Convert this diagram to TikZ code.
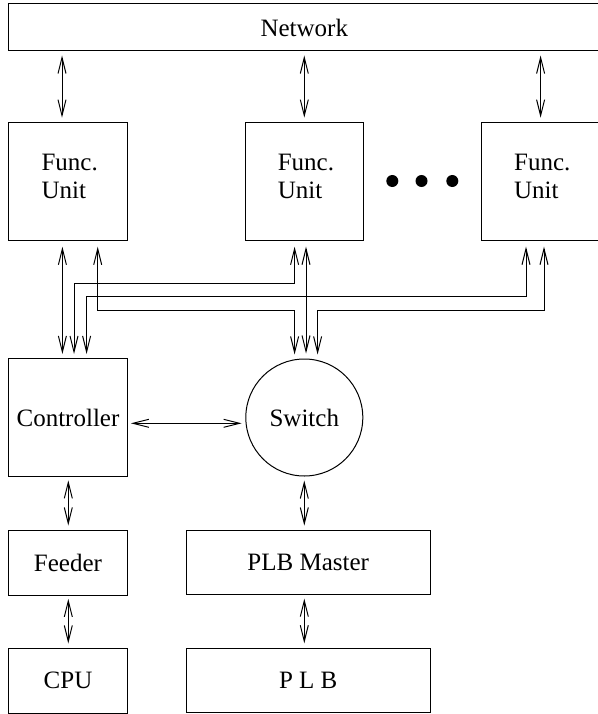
\documentclass[tikz,border=0pt]{standalone}
\usepackage{fontspec}
\setmainfont{Liberation Serif}
\usetikzlibrary{arrows.meta,calc}
\begin{document}
\begin{tikzpicture}[x=1pt,y=-1pt,line width=1pt,
  txt/.style={font=\fontsize{25}{28}\selectfont},
  box/.style={draw,rectangle,inner sep=0pt,minimum width=118.6pt,minimum height=118pt},
  lowbox/.style={draw,rectangle,inner sep=0pt,minimum width=118.6pt,minimum height=65pt,txt},
  widebox/.style={draw,rectangle,inner sep=0pt,minimum width=244.3pt,minimum height=64.7pt,txt},
  arr/.style={arrows={Straight Barb[length=16pt,width=8pt]-Straight Barb[length=16pt,width=8pt]}},
  gaps/.style 2 args={shorten <=#1,shorten >=#2}]
\useasboundingbox (0,0) rectangle (597,714);
% boxes
\node[draw,rectangle,inner sep=0pt,minimum width=591.2pt,minimum height=47pt,txt] (net) at (304.3,27.5) {Network};
\node[box] (fu1) at (68,181.2) {};
\node[box] (fu2) at (304.3,181.2) {};
\node[box] (fu3) at (540.6,181.2) {};
\foreach \f in {fu1,fu2,fu3}
  \node[txt,align=left,anchor=west] (\f t) at ([xshift=29.5pt,yshift=4.8pt]\f.west) {Func.\\Unit};
\node[box,txt] (ctrl) at (68,417.5) {Controller};
\node[draw,circle,inner sep=0pt,minimum size=117pt,txt] (sw) at (304.3,417.5) {Switch};
\node[lowbox] (feed) at (68,562.5) {Feeder};
\node[lowbox] (cpu) at (68,680.8) {CPU};
\node[widebox] (plbm) at (308.2,562.4) {PLB Master};
\node[widebox] (plb) at (308.2,680.5) {P L B};
% dots
\fill (392.3,181) circle[radius=6pt];
\fill (421.5,181) circle[radius=6pt];
\fill (452.3,181) circle[radius=6pt];
% x positions of wires
\coordinate (n1) at (62,0);
\coordinate (a1) at (62.4,0);
\coordinate (a2) at (97.7,0);
\coordinate (b1) at (294.6,0);
\coordinate (b2) at (306,0);
\coordinate (d1) at (526,0);
\coordinate (d2) at (544,0);
\coordinate (c1) at (62.4,0);
\coordinate (c2) at (74,0);
\coordinate (c3) at (86.6,0);
\coordinate (s1) at (294.6,0);
\coordinate (s2) at (306,0);
\coordinate (s3) at (317.6,0);
\coordinate (lx) at (68.3,0);
\coordinate (swl) at (246.1,0);
% wire levels
\coordinate (h1) at (0,283);
\coordinate (h2) at (0,296);
\coordinate (h3) at (0,310);
\coordinate (hc) at (0,423.3);
% network links
\draw[arr,gaps={4pt}{4pt}] (net.south -| n1) -- (fu1.north -| n1);
\draw[arr,gaps={4pt}{4pt}] (net.south -| fu2) -- (fu2.north);
\draw[arr,gaps={4pt}{4pt}] (net.south -| fu3) -- (fu3.north);
% func units to controller / switch
\draw[arr,gaps={6pt}{4pt}] (fu1.south -| a1) -- (ctrl.north -| c1);
\draw[arr,gaps={6pt}{4pt}] (fu1.south -| a2) -- (a2 |- h3) -- (s1 |- h3) -- (sw.north -| s1);
\draw[arr,gaps={6pt}{4pt}] (fu2.south -| b1) -- (b1 |- h1) -- (c2 |- h1) -- (ctrl.north -| c2);
\draw[arr,gaps={6pt}{5pt}] (fu2.south -| b2) -- (sw.north -| s2);
\draw[arr,gaps={6pt}{4pt}] (fu3.south -| d1) -- (d1 |- h2) -- (c3 |- h2) -- (ctrl.north -| c3);
\draw[arr,gaps={6pt}{4pt}] (fu3.south -| d2) -- (d2 |- h3) -- (s3 |- h3) -- (sw.north -| s3);
% controller - switch
\draw[arr,gaps={3pt}{4.4pt}] (ctrl.east |- hc) -- (swl |- hc);
% lower chain
\draw[arr,gaps={3.3pt}{4pt}] (ctrl.south -| lx) -- (feed.north -| lx);
\draw[arr,gaps={3.3pt}{4.3pt}] (feed.south -| lx) -- (cpu.north -| lx);
\draw[arr,gaps={4pt}{4pt}] (sw.south) -- (plbm.north -| sw);
\draw[arr,gaps={3.3pt}{4.3pt}] (plbm.south -| sw) -- (plb.north -| sw);
\end{tikzpicture}
\end{document}
